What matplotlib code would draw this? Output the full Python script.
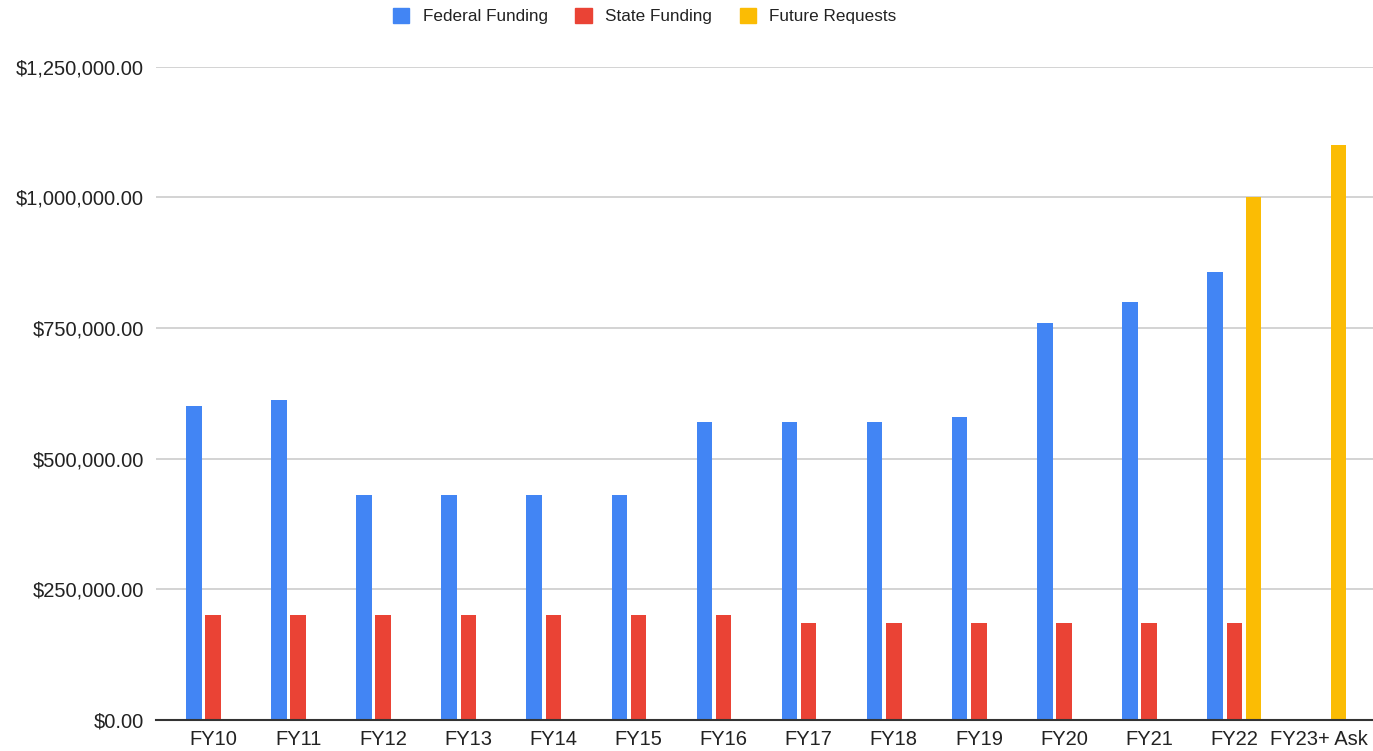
import numpy as np
import matplotlib.pyplot as plt
from matplotlib.patches import Patch

plt.rcParams["font.family"] = ["Liberation Sans", "DejaVu Sans"]

# ── Data ────────────────────────────────────────────────────────
years = ["FY10", "FY11", "FY12", "FY13", "FY14", "FY15", "FY16",
         "FY17", "FY18", "FY19", "FY20", "FY21", "FY22", "FY23+ Ask"]
federal = [600000, 612000, 430000, 430000, 430000, 430000, 570000,
           570000, 570000, 580000, 760000, 800000, 858000, np.nan]
state = [200000, 200000, 200000, 200000, 200000, 200000, 200000,
         185000, 185000, 185000, 185000, 185000, 185000, np.nan]
future = [np.nan] * 12 + [1000000, 1100000]
yticks = [0, 250000, 500000, 750000, 1000000, 1250000]

c_fed, c_state, c_fut = "#4285F4", "#EA4335", "#FBBC04"

# ── Plot ────────────────────────────────────────────────────────
fig = plt.figure(figsize=(13.73, 7.51), dpi=100)
ax = fig.add_axes([156 / 1373, 31 / 751, 1 - 156 / 1373, (720 - 66.7) / 751])

x = np.arange(len(years))
w, off = 0.182, 0.226
ax.bar(x - off, federal, w, color=c_fed, zorder=3)
ax.bar(x, state, w, color=c_state, zorder=3)
ax.bar(x + off, future, w, color=c_fut, zorder=3)

ax.set_ylim(0, 1250000)
ax.set_xlim(-0.67, 13.63)
ax.set_yticks(yticks)
ax.set_yticklabels([f"${v:,.2f}" for v in yticks])
ax.set_xticks(x)
ax.set_xticklabels(years)
ax.tick_params(axis="both", length=0, labelsize=14.5, colors="#222222")
ax.tick_params(axis="y", pad=8.5)
ax.tick_params(axis="x", pad=7)

for v in yticks[1:]:
    ax.axhline(v, color="#cccccc", lw=1.2, zorder=1)
for s in ["top", "right", "left"]:
    ax.spines[s].set_visible(False)
ax.spines["bottom"].set_color("#333333")
ax.spines["bottom"].set_linewidth(1.5)
ax.spines["bottom"].set_zorder(4)

handles = [Patch(color=c_fed, label="Federal Funding"),
           Patch(color=c_state, label="State Funding"),
           Patch(color=c_fut, label="Future Requests")]
fig.legend(handles=handles, loc="center", bbox_to_anchor=(645 / 1373, 1 - 16 / 751),
           ncol=3, frameon=False, fontsize=12.3, handlelength=0.95, handleheight=0.95,
           handletextpad=0.8, columnspacing=1.6, labelcolor="#222222")

plt.savefig("out.png", dpi=100)
